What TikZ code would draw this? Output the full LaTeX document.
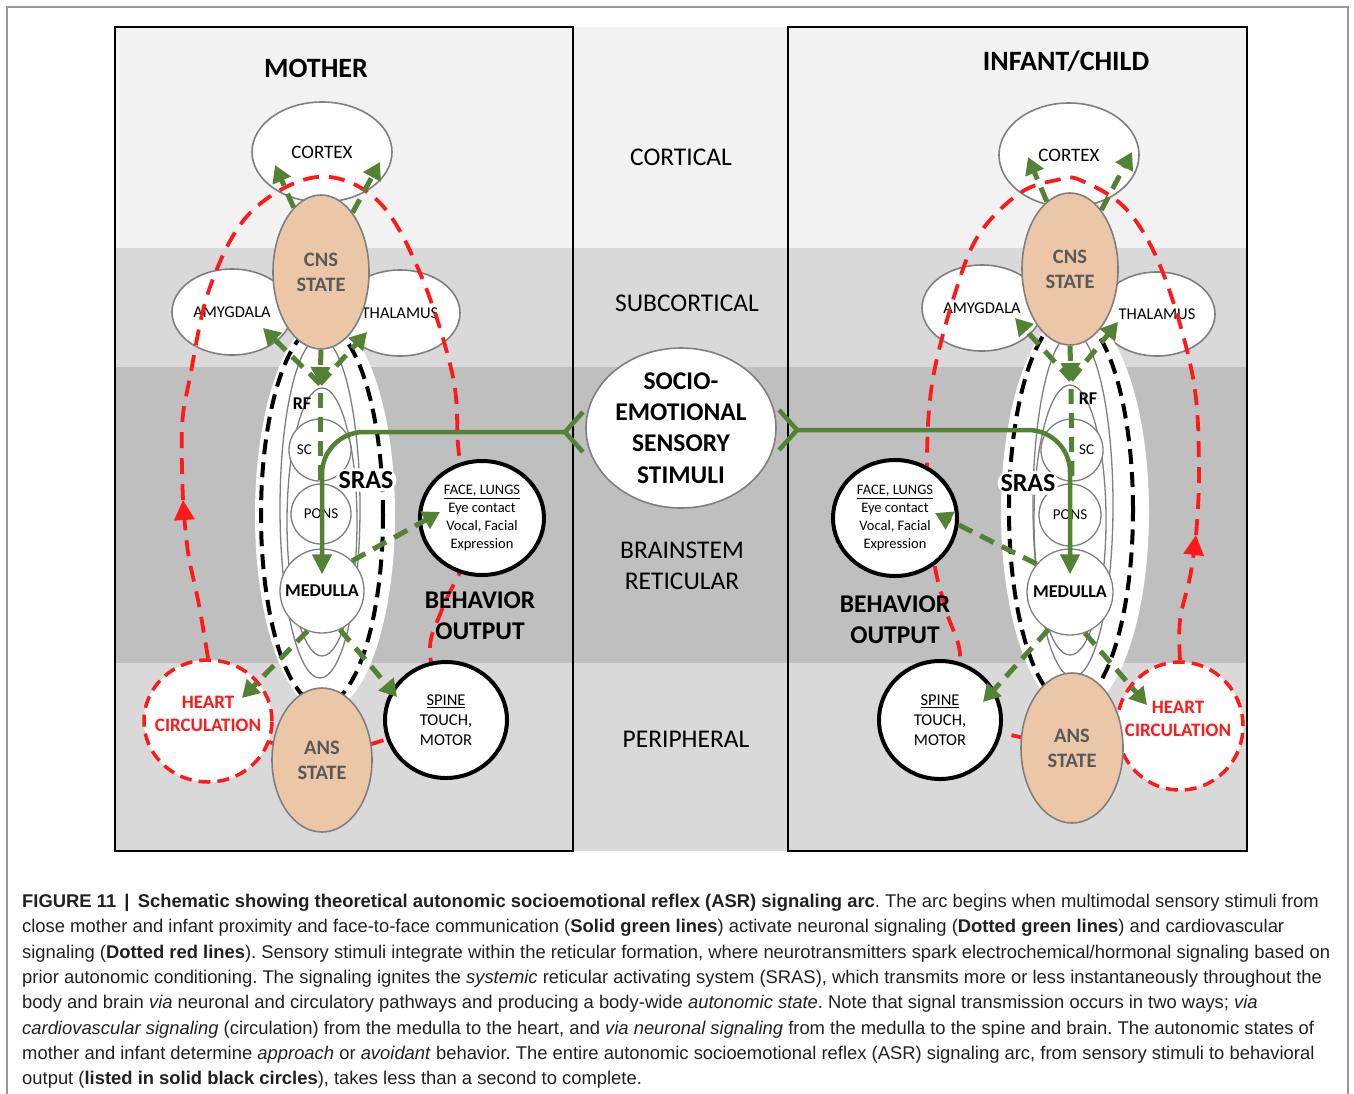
\documentclass[tikz,border=0pt]{standalone}
\usepackage{fontspec}
\setmainfont{Carlito}
\newfontfamily\capfont{Liberation Sans}
\usepackage{xcolor}
\usetikzlibrary{shapes.geometric,arrows.meta,positioning}

\definecolor{bandA}{HTML}{F2F2F2}
\definecolor{bandB}{HTML}{D9D9D9}
\definecolor{bandC}{HTML}{BFBFBF}
\definecolor{nervegreen}{HTML}{548235}
\definecolor{peach}{HTML}{ECC7A7}
\definecolor{rim}{HTML}{7F7F7F}
\definecolor{statetext}{HTML}{595959}
\definecolor{alarm}{HTML}{FF1A1A}
\definecolor{captext}{HTML}{231F20}

\tikzstyle{region} = [ellipse, draw=rim, line width=1.6pt, fill=white, inner sep=0pt, font=\fontsize{16.5}{20}\selectfont]
\tikzstyle{state} = [ellipse, draw=rim, line width=1.6pt, fill=peach, inner sep=0pt, text=statetext, align=center, font=\bfseries\fontsize{20.5}{25}\selectfont]
\tikzstyle{nucleus} = [circle, draw=rim, line width=1.3pt, fill=white, inner sep=0pt, font=\fontsize{15}{18}\selectfont]
\tikzstyle{rfzone} = [ellipse, draw=rim, line width=1.3pt, inner sep=0pt]
\tikzstyle{glow} = [ellipse, fill=white, inner sep=0pt]
\tikzstyle{srasline} = [ellipse, draw=black, line width=4pt, dash pattern=on 15pt off 8pt, inner sep=0pt]
\tikzstyle{srastext} = [fill=white, rounded corners=12pt, inner sep=3pt, font=\bfseries\fontsize{26}{28}\selectfont]
\tikzstyle{output} = [ellipse, draw=black, line width=4pt, fill=white, inner sep=0pt, align=center]
\tikzstyle{heart} = [ellipse, draw=alarm, line width=3.5pt, dash pattern=on 12pt off 7pt, fill=white, inner sep=0pt]
\tikzstyle{hearttext} = [align=center, text=alarm, font=\bfseries\fontsize{19}{23}\selectfont]
\tikzstyle{level} = [align=center, font=\fontsize{25.5}{31}\selectfont]
\tikzstyle{behavior} = [align=center, font=\bfseries\fontsize{25.5}{31}\selectfont]
\tikzstyle{panel} = [font=\bfseries\fontsize{28}{30}\selectfont]
\tikzstyle{neural} = [draw=nervegreen, line width=5pt, dash pattern=on 15pt off 9pt, -{Triangle[length=17pt, width=19pt]}]
\tikzstyle{stimulus} = [draw=nervegreen, line width=4.5pt, rounded corners=42pt, {Straight Barb[reversed, length=18pt, width=40pt]}-{Triangle[length=20pt, width=19pt]}]
\tikzstyle{cardio} = [draw=alarm, line width=3.8pt, dash pattern=on 16pt off 10pt]

\pgfdeclarelayer{ground}
\pgfdeclarelayer{loops}
\pgfsetlayers{ground,loops,main}

\begin{document}
\begin{tikzpicture}[x=1pt, y=-1pt]
\useasboundingbox (0,0) rectangle (1354,1093);

\begin{pgfonlayer}{ground}
	\draw[rim!80, line width=1.2pt] (7,7) rectangle (1348,1120);
	\fill[bandA] (115,27) rectangle (1247,248);
	\fill[bandB] (115,248) rectangle (1247,367);
	\fill[bandC] (115,367) rectangle (1247,663);
	\fill[bandB] (115,663) rectangle (1247,851);
	\draw[line width=2pt] (115,27) rectangle (573,851);
	\draw[line width=2pt] (788,27) rectangle (1247,851);

	\node (cortical) [level] at (681,157) {CORTICAL};
	\node (subcortical) [level] at (687,303) {SUBCORTICAL};
	\node (brainstem) [level] at (682,566) {BRAINSTEM\\RETICULAR};
	\node (peripheral) [level] at (686,739) {PERIPHERAL};

	\node (mtitle) [panel] at (316,68) {MOTHER};
	\node (ititle) [panel] at (1066,61) {INFANT/CHILD};

	\node (mcortex) [region, minimum width=140pt, minimum height=100pt, font=\fontsize{19}{22}\selectfont] at (322,152) {CORTEX};
	\node (mamyg) [region, minimum width=120pt, minimum height=86pt] at (232,312) {AMYGDALA};
	\node (mthal) [region, minimum width=120pt, minimum height=86pt] at (400,313) {THALAMUS};

	\node (icortex) [region, minimum width=140pt, minimum height=104pt, font=\fontsize{19}{22}\selectfont] at (1069,155) {CORTEX};
	\node (iamyg) [region, minimum width=120pt, minimum height=86pt] at (982,308) {AMYGDALA};
	\node (ithal) [region, minimum width=116pt, minimum height=84pt] at (1157,314) {THALAMUS};
\end{pgfonlayer}

% mother brainstem
\node (mglow) [glow, minimum width=140pt, minimum height=392pt] at (325,515) {};
\node (msras) [srasline, minimum width=122pt, minimum height=380pt] at (322,515) {};
\node (mrfzone) [rfzone, minimum width=80pt, minimum height=340pt] at (320,508) {};
\node (mstem) [rfzone, minimum width=70pt, minimum height=268pt] at (322,522) {};
\node (msc) [nucleus, minimum size=62pt] at (320,450) {};
\node (msctext) [font=\fontsize{15}{18}\selectfont, right=5pt of msc.west] {SC};
\node (mpons) [nucleus, minimum size=60pt] at (321,514) {PONS};
\node (mmed) [nucleus, minimum size=84pt, font=\bfseries\fontsize{18}{20}\selectfont] at (322,591) {MEDULLA};
\node (mrf) [font=\bfseries\fontsize{18}{20}\selectfont] at (302,404) {RF};
\node (mlabel) [srastext] at (366,480) {SRAS};

\node (mcns) [state, minimum width=96pt, minimum height=154pt] at (321,272) {CNS\\STATE};
\node (mheart) [heart, minimum width=128pt, minimum height=122pt] at (208,721) {};
\node (mhearttext) [hearttext] at (208,714) {HEART\\CIRCULATION};
\node (mans) [state, minimum width=100pt, minimum height=144pt] at (322,760) {ANS\\STATE};
\node (mface) [output, minimum width=124pt, minimum height=114pt, font=\fontsize{14.5}{18}\selectfont] at (482,518) {\underline{FACE, LUNGS}\\Eye contact\\Vocal, Facial\\Expression};
\node (mspine) [output, minimum width=122pt, minimum height=116pt, font=\fontsize{16.5}{20}\selectfont] at (446,720) {\underline{SPINE}\\TOUCH,\\MOTOR};

% infant brainstem
\node (iglow) [glow, minimum width=148pt, minimum height=400pt] at (1075,512) {};
\node (isras) [srasline, minimum width=124pt, minimum height=390pt] at (1071,510) {};
\node (irfzone) [rfzone, minimum width=80pt, minimum height=344pt] at (1073,505) {};
\node (istem) [rfzone, minimum width=72pt, minimum height=270pt] at (1070,520) {};
\node (isc) [nucleus, minimum size=62pt] at (1072,450) {};
\node (isctext) [font=\fontsize{15}{18}\selectfont, left=6pt of isc.east] {SC};
\node (ipons) [nucleus, minimum size=62pt] at (1070,515) {PONS};
\node (imed) [nucleus, minimum size=86pt, font=\bfseries\fontsize{18}{20}\selectfont] at (1070,592) {MEDULLA};
\node (irf) [font=\bfseries\fontsize{18}{20}\selectfont] at (1088,399) {RF};
\node (ilabel) [srastext] at (1028,483) {SRAS};

\node (icns) [state, minimum width=96pt, minimum height=152pt] at (1070,269) {CNS\\STATE};
\node (iheart) [heart, minimum width=126pt, minimum height=128pt] at (1180,726) {};
\node (ihearttext) [hearttext] at (1178,719) {HEART\\CIRCULATION};
\node (ians) [state, minimum width=102pt, minimum height=150pt] at (1072,748) {ANS\\STATE};
\node (iface) [output, minimum width=124pt, minimum height=116pt, font=\fontsize{14.5}{18}\selectfont] at (895,518) {\underline{FACE, LUNGS}\\Eye contact\\Vocal, Facial\\Expression};
\node (ispine) [output, minimum width=122pt, minimum height=118pt, font=\fontsize{16.5}{20}\selectfont] at (940,720) {\underline{SPINE}\\TOUCH,\\MOTOR};

\node (mbehav) [behavior] at (480,616) {BEHAVIOR\\OUTPUT};
\node (ibehav) [behavior] at (895,620) {BEHAVIOR\\OUTPUT};

\node (stim) [region, minimum width=190pt, minimum height=160pt, align=center, font=\bfseries\fontsize{25.5}{31.3}\selectfont] at (681,428) {SOCIO-\\EMOTIONAL\\SENSORY\\STIMULI};

% sensory input
\draw [stimulus] ([yshift=-4pt]stim.west) -| ([yshift=-26pt]mmed.north);
\draw [stimulus] ([yshift=-2pt]stim.east) -| ([yshift=-26pt]imed.north);

% neuronal signaling, mother
\coordinate (mctxL) at (275,165);
\coordinate (mctxR) at (380,162);
\coordinate (mhub) at (320,384);
\coordinate (mamygtip) at (263,328);
\coordinate (mthaltip) at (367,332);
\coordinate (mfacetip) at (440,512);
\coordinate (mhearttip) at (242,698);
\coordinate (mspinetip) at (397,697);
\draw [neural] (mcns.113) -- (mctxL);
\draw [neural] (mcns.62) -- (mctxR);
\draw [neural] (mcns.south) -- (mhub);
\draw [neural] (mhub) -- (mamygtip);
\draw [neural] (mhub) -- (mthaltip);
\draw [neural, -, dash phase=15pt] (mhub) -- (msc.south);
\draw [neural] (mmed.45) -- (mfacetip);
\draw [neural] (mmed.250) -- (mhearttip);
\draw [neural] (mmed.295) -- (mspinetip);

% neuronal signaling, infant
\coordinate (ictxL) at (1028,157);
\coordinate (ictxR) at (1132,152);
\coordinate (ihub) at (1071,380);
\coordinate (iamygtip) at (1015,318);
\coordinate (ithaltip) at (1118,322);
\coordinate (ifacetip) at (935,513);
\coordinate (ispinetip) at (983,702);
\coordinate (ihearttip) at (1147,705);
\draw [neural] (icns.109) -- (ictxL);
\draw [neural] (icns.62) -- (ictxR);
\draw [neural] (icns.south) -- (ihub);
\draw [neural] (ihub) -- (iamygtip);
\draw [neural] (ihub) -- (ithaltip);
\draw [neural, -, dash phase=15pt] (ihub) -- (isc.south);
\draw [neural] (imed.140) -- (ifacetip);
\draw [neural] (imed.240) -- (ispinetip);
\draw [neural] (imed.290) -- (ihearttip);

% cardiovascular signaling
\begin{pgfonlayer}{loops}
	\draw [cardio, -{Triangle[length=20pt, width=20pt]}] plot[smooth, tension=0.6] coordinates {(mheart.north) (199,605) (188,552) (183,500)};
	\draw [cardio] plot[smooth, tension=0.6] coordinates {(183,500) (182,427) (190,377) (210,287) (250,213) (317,177) (377,200) (420,273) (453,377) (460,460) (mface.center) (443,607) (430,653) (mspine.center)} -- (mans.center) -- (mheart.center);
	\draw [cardio, -{Triangle[length=20pt, width=20pt]}] plot[smooth, tension=0.6] coordinates {(iheart.north) (1180,620) (1190,577) (1196,535)};
	\draw [cardio] plot[smooth, tension=0.6] coordinates {(1196,535) (1199,470) (1193,378) (1163,273) (1127,210) (1080,180) (1057,180) (1020,193) (980,233) (957,287) (933,378) (927,460) (932,515) (935,567) (947,613) (960,660) (ispine.center)} -- (ians.center) -- (iheart.center);
\end{pgfonlayer}

\node (caption) [anchor=north west, align=left, inner sep=0pt, text=captext, font=\capfont\frenchspacing\fontsize{18.4}{25.3}\selectfont] at (22,894) {\textbf{FIGURE 11 \,|\, Schematic showing theoretical autonomic socioemotional reflex (ASR) signaling arc}. The arc begins when multimodal sensory stimuli from\\
close mother and infant proximity and face-to-face communication (\textbf{Solid green lines}) activate neuronal signaling (\textbf{Dotted green lines}) and cardiovascular\\
signaling (\textbf{Dotted red lines}). Sensory stimuli integrate within the reticular formation, where neurotransmitters spark electrochemical/hormonal signaling based on\\
prior autonomic conditioning. The signaling ignites the \textit{systemic} reticular activating system (SRAS), which transmits more or less instantaneously throughout the\\
body and brain \textit{via} neuronal and circulatory pathways and producing a body-wide \textit{autonomic state}. Note that signal transmission occurs in two ways; \textit{via}\\
\textit{cardiovascular signaling} (circulation) from the medulla to the heart, and \textit{via neuronal signaling} from the medulla to the spine and brain. The autonomic states of\\
mother and infant determine \textit{approach} or \textit{avoidant} behavior. The entire autonomic socioemotional reflex (ASR) signaling arc, from sensory stimuli to behavioral\\
output (\textbf{listed in solid black circles}), takes less than a second to complete.};

\end{tikzpicture}
\end{document}
